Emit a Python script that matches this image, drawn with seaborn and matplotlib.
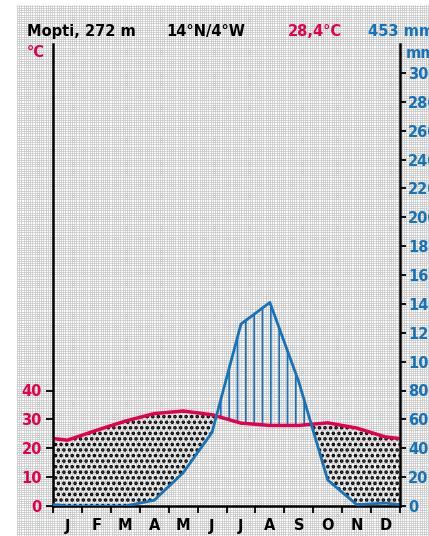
import numpy as np
import pandas as pd
import seaborn as sns
import matplotlib.pyplot as plt
from matplotlib.ticker import MultipleLocator

# climate data
months = ["J", "F", "M", "A", "M", "J", "J", "A", "S", "O", "N", "D"]
temp_c = [22.8, 26.2, 29.4, 32.0, 32.9, 31.6, 28.7, 27.9, 27.9, 28.8, 27.0, 23.9]
precip_mm = [0, 0, 0, 4, 23, 51, 126, 141, 86, 18, 1, 2]
temp_ticks = [0, 10, 20, 30, 40]
precip_ticks = list(range(0, 301, 20))

station = "Mopti, 272 m"
coords = "14°N/4°W"
annual_temp = "28,4°C"
annual_precip = "453 mm"

RED = "#e4004f"
BLUE = "#1672b9"
W, H = 429, 536


def wrap(values):
    # close the year: the curves start and end at the Dec/Jan mean
    edge = (values[0] + values[-1]) / 2
    return [edge] + list(values) + [edge]


def fx(px):
    return px / W


def fy(py):
    return 1 - py / H


df = pd.DataFrame({
    "month": [0] + [i + 0.5 for i in range(12)] + [12],
    "temp": wrap(temp_c),
    "precip": wrap(precip_mm),
})
df["precip_scaled"] = df["precip"] / 2  # 20 mm = 10 °C

sns.set_theme(style="white")
plt.rcParams["font.family"] = ["DejaVu Sans"]
plt.rcParams["font.weight"] = "bold"
plt.rcParams["hatch.linewidth"] = 1.2

fig = plt.figure(figsize=(W / 100, H / 100), dpi=100)
fig.patch.set_facecolor("white")

# fine grey mesh behind everything
bg = fig.add_axes([fx(17), 0, 1 - fx(17), fy(5)], zorder=-5)
bg.set_xlim(0, W - 17)
bg.set_ylim(0, H - 5)
bg.xaxis.set_major_locator(MultipleLocator(2.2))
bg.yaxis.set_major_locator(MultipleLocator(2.2))
bg.grid(True, color="#c4c4c4", lw=0.5)
bg.set_facecolor("white")
bg.tick_params(length=0, labelbottom=False, labelleft=False)
for s in bg.spines.values():
    s.set_visible(False)

ax = fig.add_axes([fx(53), 1 - 506 / H, fx(400 - 53), (506 - 44) / H])
ax.set_facecolor("none")
ax2 = ax.twinx()
ax2.set_facecolor("none")

# arid period (dots) and humid period (vertical lines)
arid = ax.fill_between(df["month"], df["precip_scaled"], df["temp"],
                       where=df["precip_scaled"] <= df["temp"], interpolate=True,
                       facecolor="none", edgecolor="black", hatch="...", lw=0)
humid = ax.fill_between(df["month"], df["precip_scaled"], df["temp"],
                        where=df["precip_scaled"] >= df["temp"], interpolate=True,
                        facecolor="none", edgecolor=BLUE, hatch="||", lw=0)
if hasattr(arid, "set_hatch_linewidth"):
    arid.set_hatch_linewidth(1.7)
    humid.set_hatch_linewidth(1.2)

sns.lineplot(data=df, x="month", y="temp", ax=ax, color=RED, lw=2.5)
sns.lineplot(data=df, x="month", y="precip", ax=ax2, color=BLUE, lw=2.0)

ax.set_xlim(0, 12)
ax.set_ylim(0, 160)
ax2.set_ylim(0, 320)

ax.set_xticks(range(13))
ax.set_xticklabels([])
ax.set_xticks(np.arange(0.5, 12), minor=True)
ax.set_xticklabels(months, minor=True)
ax.tick_params(axis="x", which="major", length=5, width=1.3, color="black",
               direction="out", bottom=True)
ax.tick_params(axis="x", which="minor", length=0, pad=9, labelsize=10.5,
               labelcolor="black")

ax.set_yticks(temp_ticks)
ax.set_yticklabels([str(t) for t in temp_ticks])
ax.tick_params(axis="y", length=5, width=1.3, color="black", direction="out",
               left=True, labelcolor=RED, labelsize=10.5, pad=3)

ax2.set_yticks(precip_ticks)
ax2.set_yticklabels([str(t) for t in precip_ticks])
ax2.tick_params(axis="y", length=4, width=1.3, color="black", direction="out",
                right=True, labelcolor=BLUE, labelsize=10.5, pad=2)

ax.set_xlabel("")
ax.set_ylabel("")
ax2.set_ylabel("")

for name, s in ax.spines.items():
    s.set_visible(name in ("left", "bottom"))
    s.set_color("black")
    s.set_linewidth(1.8)
for name, s in ax2.spines.items():
    s.set_visible(name == "right")
    s.set_color("black")
    s.set_linewidth(1.8)

# header line
fig.text(fx(27), fy(36), station, fontsize=10.5, fontweight="bold", color="black")
fig.text(fx(166), fy(36), coords, fontsize=10.5, fontweight="bold", color="black")
fig.text(fx(288), fy(36), annual_temp, fontsize=10.5, fontweight="bold", color=RED)
fig.text(fx(368), fy(36), annual_precip, fontsize=10.5, fontweight="bold", color=BLUE)
fig.text(fx(27), fy(57), "°C", fontsize=10.5, fontweight="bold", color=RED)
fig.text(fx(406), fy(58), "mm", fontsize=10.5, fontweight="bold", color=BLUE)

fig.savefig("out.png", dpi=100)
